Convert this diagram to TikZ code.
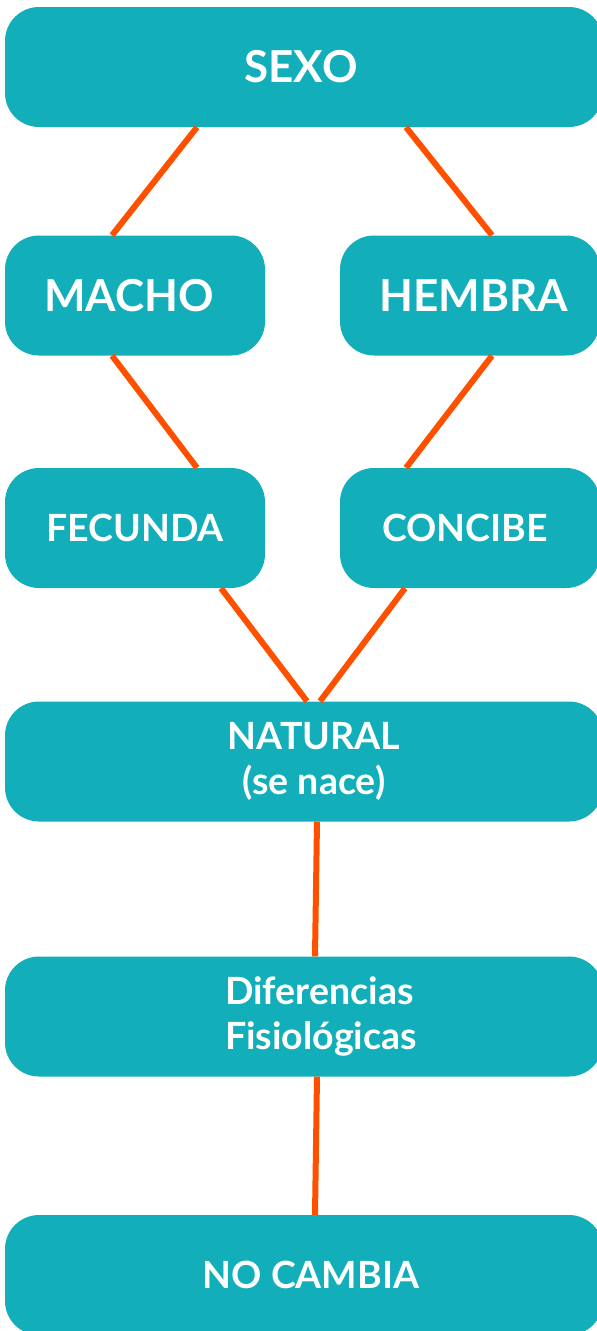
\documentclass[tikz,border=0pt]{standalone}
\usepackage{fontspec}
\setmainfont{Lato}
\definecolor{tealbox}{HTML}{12AEBA}
\definecolor{orng}{HTML}{FF5000}
\newcommand{\rs}[1]{\hspace*{#1pt}}
\begin{document}
\begin{tikzpicture}[x=1pt,y=-1pt,
  box/.style={fill=tealbox, rounded corners=34pt, inner sep=0pt, text=white,
    font=\bfseries\fontsize{44}{48}\selectfont, align=center},
  wide/.style={minimum width=598pt, minimum height=120pt},
  half/.style={minimum width=260pt, minimum height=120pt},
  small/.style={font=\bfseries\fontsize{37.5}{45}\selectfont},
  link/.style={draw=orng, line width=6pt}]
\useasboundingbox (0,0) rectangle (597,1331);
\clip (0,0) rectangle (597,1331);
\node[box, wide] (sexo) at (304,67) {SEXO\rs{6}};
\node[box, half] (macho) at (135,295.5) {MACHO\rs{12}};
\node[box, half] (hembra) at (470,295.5) {\rs{8}HEMBRA};
\node[box, half, small] (fecunda) at (135,528) {FECUNDA};
\node[box, half, small] (concibe) at (470,528) {CONCIBE\rs{10}};
\node[box, wide, small] (natural) at (304,761.5) {\rs{20}NATURAL\\\rs{20}(se nace)};
\node[box, wide, small, align=left] (dif) at (304,1016.5) {\rs{34}Diferencias\\\rs{34}Fisiológicas};
\node[box, wide, small] (nocambia) at (304,1275) {\rs{14}NO CAMBIA};
\draw[link] (sexo.south -| 197,0) -- (macho.north -| 112,0);
\draw[link] (sexo.south -| 406,0) -- (hembra.north -| 492,0);
\draw[link] (macho.south -| 112,0) -- (fecunda.north -| 197,0);
\draw[link] (hembra.south -| 492,0) -- (concibe.north -| 406,0);
\draw[link] (fecunda.south -| 221,0) -- (natural.north -| 307,0);
\draw[link] (concibe.south -| 405,0) -- (natural.north -| 320,0);
\draw[link] (natural.south -| 317,0) -- (dif.north -| 315,0);
\draw[link] (dif.south -| 317,0) -- (nocambia.north -| 315,0);
\end{tikzpicture}
\end{document}
